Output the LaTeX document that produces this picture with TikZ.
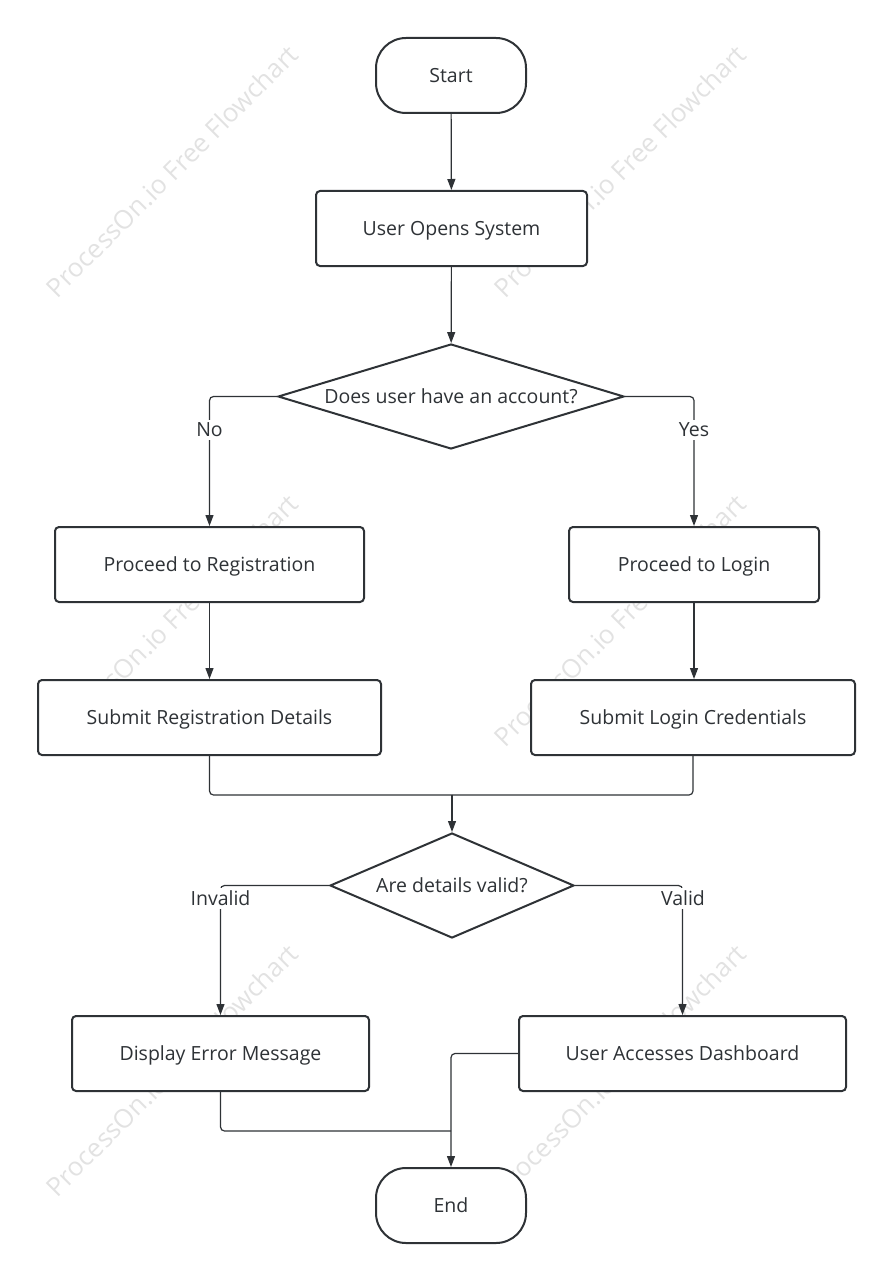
\documentclass[tikz,border=0pt]{standalone}
\usepackage{fontspec}
\setmainfont{Open Sans}
\usepackage{tikz}
\usetikzlibrary{positioning,shapes.geometric,arrows.meta}
\definecolor{ink}{HTML}{2E3236}
\definecolor{wmark}{HTML}{E2E2E2}
\tikzset{
	login flow/.style={
		x=1pt,y=-1pt,
		font=\fontsize{19.5}{23}\selectfont,
		text=ink,
		link/.style={draw=ink,line width=1.2pt,rounded corners=4pt},
		arrow/.style={link,-{Triangle[length=11pt,width=8pt]}}
	},
	terminalbox/.style={
		rectangle,
		draw=ink,
		fill=white,
		line width=2pt,
		rounded corners=30pt,
		minimum width=150pt,
		minimum height=75pt,
		text height=14pt,text depth=0pt % centre on capitals
	},
	stepbox/.style={
		rectangle,
		draw=ink,
		fill=white,
		line width=2pt,
		rounded corners=4pt,
		minimum height=75pt,
		text height=14pt,text depth=0pt
	},
	decision/.style={
		diamond,
		draw=ink,
		fill=white,
		line width=2pt,
		inner sep=0pt,
		aspect=3,
		minimum height=105pt,
		text height=14pt,text depth=0pt
	},
	branch label/.style={
		fill=white,
		inner sep=3pt
	},
	watermark/.style={
		text=wmark,
		rotate=45,
		font=\fontsize{26}{30}\selectfont
	}
}

\begin{document}
\begin{tikzpicture}[login flow]
	\useasboundingbox (0,0) rectangle (892,1281);
	% faint watermark grid, behind the boxes
	\foreach \wx/\wy [count=\i] in {172/171,620/171,172/620,620/620,172/1070,620/1070}
		\node[watermark] (wm\i) at (\wx,\wy) {ProcessOn.io Free Flowchart};

	\node[terminalbox] (start) at (451,75.5) {Start};
	\node[stepbox,minimum width=271pt] (open) at (451.5,228.5) {User Opens System};
	\node[decision,minimum width=346pt] (account) at (451,396.5) {Does user have an account?};
	\node[stepbox,minimum width=309pt] (reg) at (209.5,564.5) {Proceed to Registration};
	\node[stepbox,minimum width=250pt] (login) at (694,564.5) {Proceed to Login};
	\node[stepbox,minimum width=343pt] (subreg) at (209.5,717.5) {Submit Registration Details};
	\node[stepbox,minimum width=324pt] (sublogin) at (693,717.5) {Submit Login Credentials};
	\node[decision,minimum width=244pt] (valid) at (452,885.5) {Are details valid?};
	\node[stepbox,minimum width=297pt] (error) at (220.5,1053.5) {Display Error Message};
	\node[stepbox,minimum width=327pt] (dash) at (682.5,1053.5) {User Accesses Dashboard};
	\node[terminalbox] (end) at (451,1205.5) {End};

	\coordinate (merge) at (452,795);
	\coordinate (join) at (451,1131);

	\draw[arrow] (start) -- (open);
	\draw[arrow] (open) -- (account);
	\draw[arrow] (account.west) -| (reg.north);
	\draw[arrow] (account.east) -| (login.north);
	\draw[arrow] (reg) -- (subreg);
	\draw[arrow] (login.south) -- (login.south |- sublogin.north);
	\draw[link] (subreg.south) |- (merge);
	\draw[link] (sublogin.south) |- (merge);
	\draw[arrow] (merge) -- (valid.north);
	\draw[arrow] (valid.west) -| (error.north);
	\draw[arrow] (valid.east) -| (dash.north);
	\draw[link] (error.south) |- (join);
	\draw[arrow] (dash.west) -| (end.north);

	\node[branch label] (no) at (209.5,430) {No};
	\node[branch label] (yes) at (694,430) {Yes};
	\node[branch label] (invalid) at (220.5,898) {Invalid};
	\node[branch label] (validlbl) at (683,898) {Valid};
\end{tikzpicture}
\end{document}
